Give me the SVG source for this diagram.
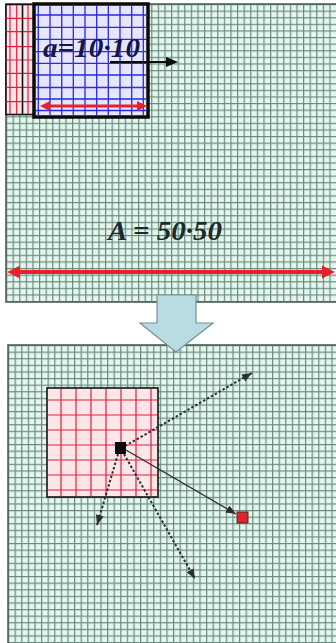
<svg xmlns="http://www.w3.org/2000/svg" width="336" height="643" viewBox="0 0 336 643">
<style>
.panel{stroke:#4f5f58;stroke-width:1.6}
.rl{stroke:#e0203a;stroke-width:1.2;fill:none}
.bl{stroke:#2a2ae0;stroke-width:1.3;fill:none}
.lbl{font-family:"Liberation Serif","Times New Roman",serif;font-weight:bold;font-style:italic;font-size:28px}
.dot{stroke:#2e2e2e;stroke-width:2;stroke-dasharray:2.5,2;fill:none}
.sol{stroke:#2e2e2e;stroke-width:1.3;fill:none}
</style>
<defs>
<pattern id="g1" width="6.6" height="6.6" patternUnits="userSpaceOnUse" x="6" y="4">
<rect width="6.6" height="6.6" fill="#e4f7ee"/>
<path d="M0 0.6H6.6M0.6 0V6.6" stroke="#6a8a7c" stroke-width="1.2"/>
</pattern>
<pattern id="g2" width="6.6" height="6.6" patternUnits="userSpaceOnUse" x="8" y="345">
<rect width="6.6" height="6.6" fill="#e4f7ee"/>
<path d="M0 0.6H6.6M0.6 0V6.6" stroke="#6a8a7c" stroke-width="1.2"/>
</pattern>
<marker id="ah" markerWidth="10" markerHeight="8" refX="10" refY="4" orient="auto" markerUnits="userSpaceOnUse">
<path d="M0 0L10 4L0 8Z" fill="#2e2e2e"/>
</marker>
</defs>

<g id="top-panel">
<rect class="panel" x="6" y="4" width="331" height="298" fill="url(#g1)"/>
</g>

<g id="red-square-top">
<rect x="6" y="4.5" width="115" height="110" fill="#fde6ea" stroke="#111" stroke-width="1.6"/>
<path class="rl" d="M10 5V114M16.7 5V114M28 5V114M6 18.3H33M6 31.7H33M6 46.7H33M6 60H33M6 73.3H33M6 87.3H33M6 101.7H33"/>
<line x1="22.5" y1="5" x2="22.5" y2="114" stroke="#111" stroke-width="1.6"/>
</g>

<g id="blue-square">
<rect x="34" y="4" width="114" height="113" fill="#e6e6ff" stroke="#0a0a0a" stroke-width="3.5"/>
<path class="bl" d="M38.3 6V115M50 6V115M61.7 6V115M73.3 6V115M85 6V115M96.7 6V115M108.3 6V115M120 6V115M131.7 6V115M143.3 6V115M36 15H146M36 27.3H146M36 39.3H146M36 51.7H146M36 63.3H146M36 75H146M36 87.5H146M36 99H146M36 110.5H146"/>
<text class="lbl" x="43" y="57" fill="#16164a" textLength="97" lengthAdjust="spacingAndGlyphs">a=10·10</text>
</g>

<g id="bottom-panel">
<rect class="panel" x="8" y="345" width="329" height="299" fill="url(#g2)"/>
</g>

<g id="red-square-bottom">
<rect x="47" y="388" width="111" height="109" fill="#fde6ea" stroke="#111" stroke-width="1.6"/>
<path class="rl" d="M61 389V496M76 389V496M91 389V496M106 389V496M121 389V496M136 389V496M151 389V496M48 400H157M48 415H157M48 430H157M48 445H157M48 460H157M48 475H157M48 490H157"/>
</g>

<g id="down-arrow">
<path d="M157 295H196V323H213L176 352L140 323H157Z" fill="#b9dbe3" stroke="#7a8f96" stroke-width="1.2"/>
</g>

<g id="labels">
<text class="lbl" x="108" y="240" fill="#1e2a2a" textLength="114" lengthAdjust="spacingAndGlyphs">A = 50·50</text>
</g>

<g id="connectors">
<line x1="110" y1="62" x2="168" y2="62" stroke="#0a0a0a" stroke-width="2.2"/>
<path d="M166 57L178 62L166 67Z" fill="#0a0a0a"/>
<line x1="48" y1="106" x2="139" y2="106" stroke="#e8202a" stroke-width="3"/>
<path d="M40 106L50 101L50 111Z M147 106L137 101L137 111Z" fill="#e8202a"/>
<line x1="18" y1="272" x2="324" y2="272" stroke="#e8202a" stroke-width="4"/>
<path d="M7 272L20 265.5L20 278.5Z M335 272L322 265.5L322 278.5Z" fill="#e8202a"/>
<line class="dot" x1="125" y1="446" x2="252" y2="373" marker-end="url(#ah)"/>
<line class="sol" x1="126" y1="450" x2="236" y2="514" marker-end="url(#ah)"/>
<line class="dot" x1="118" y1="454" x2="97" y2="525" marker-end="url(#ah)"/>
<line class="dot" x1="124" y1="454" x2="195" y2="579" marker-end="url(#ah)"/>
</g>

<g id="agent">
<rect x="115" y="442" width="11" height="12" fill="#0a0a0a"/>
</g>
<g id="target">
<rect x="237" y="512" width="11" height="11" fill="#e8202a" stroke="#333" stroke-width="1"/>
</g>
</svg>
